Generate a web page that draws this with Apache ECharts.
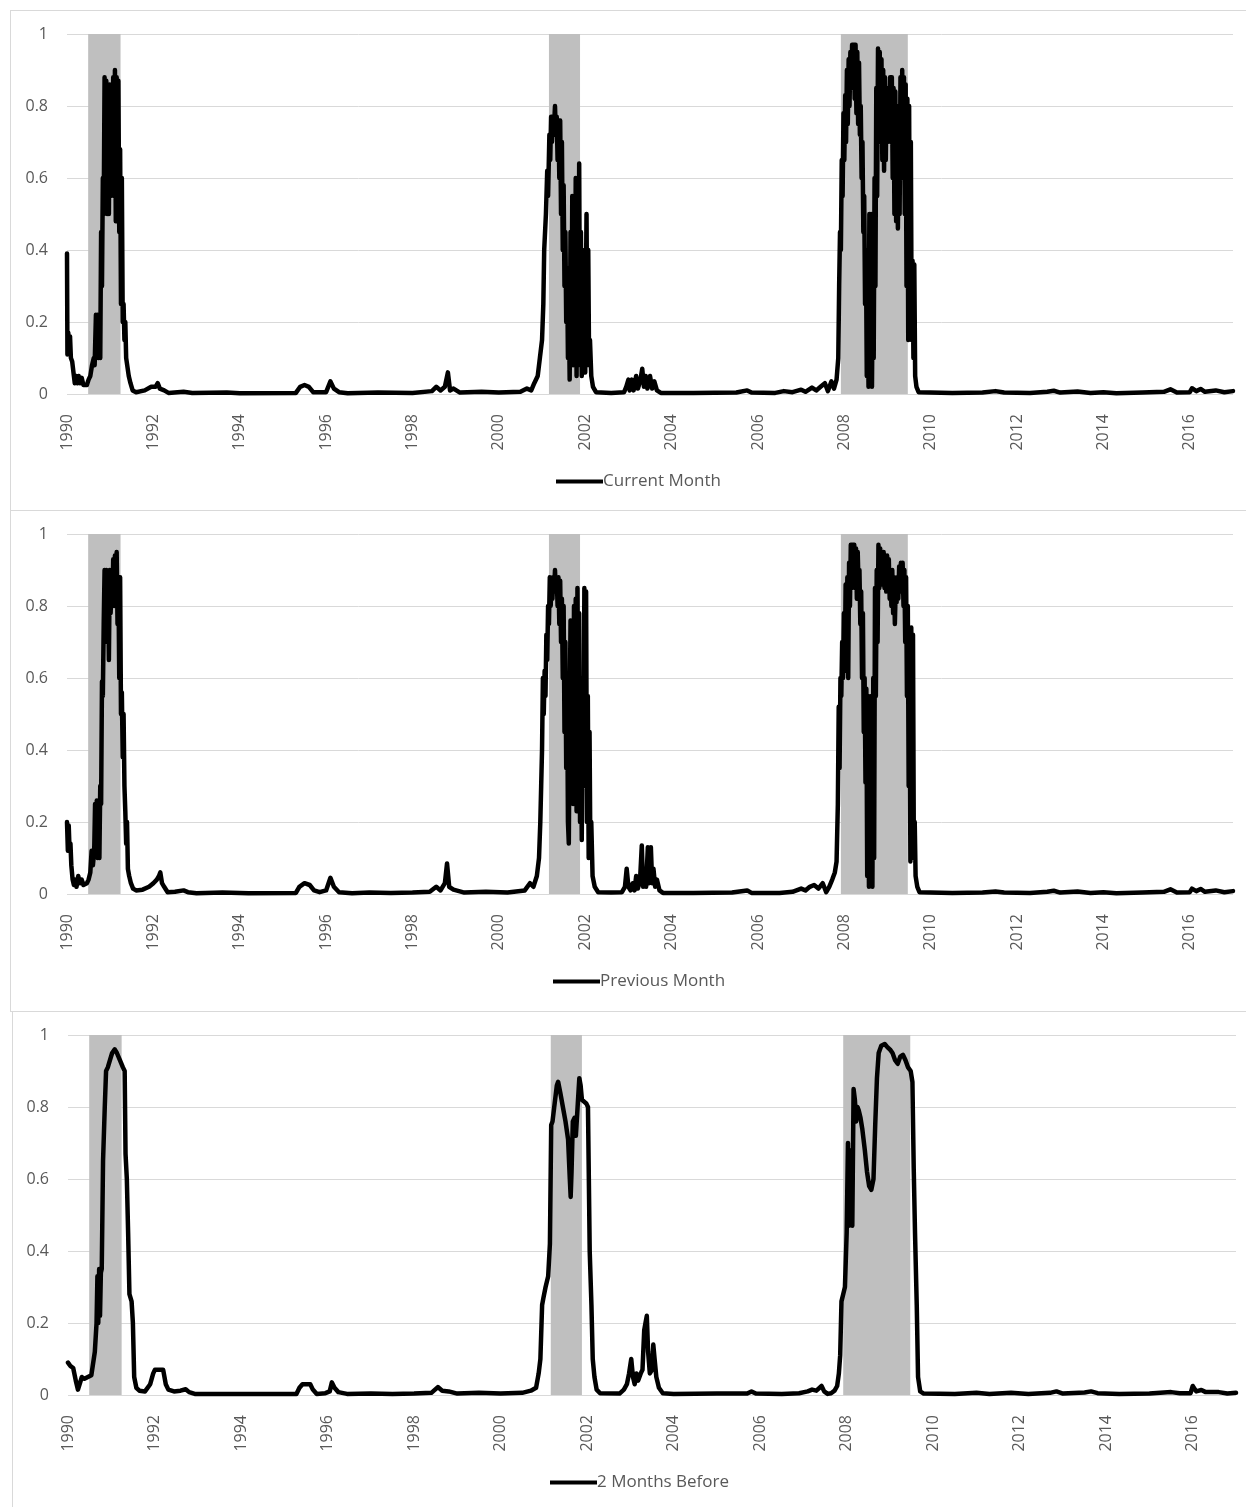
<!DOCTYPE html>
<html>
<head>
<meta charset="utf-8">
<script src="https://cdn.jsdelivr.net/npm/echarts@6/dist/echarts.min.js"></script>
<style>
  html, body { margin: 0; padding: 0; background: #fff; }
  body { width: 1246px; height: 1507px; position: relative; overflow: hidden; }
  .panel { position: absolute; border: 1px solid #d9d9d9; box-sizing: border-box; }
</style>
</head>
<body>
<div id="p1" class="panel" style="left:10px; top:10px; width:1240px; height:501px;"></div>
<div id="p2" class="panel" style="left:10px; top:510px; width:1240px; height:502px;"></div>
<div id="p3" class="panel" style="left:12px; top:1011px; width:1240px; height:500px;"></div>
<script>
// ---- Data (decimal year, probability) ----
const seriesNames = ['Current Month', 'Previous Month', '2 Months Before'];

const recessions = [[1990.49, 1991.24], [2001.16, 2001.88], [2007.92, 2009.47]];

const yAxisTicks = [0, 0.2, 0.4, 0.6, 0.8, 1];

const currentMonth = [
[1990.0,0.39],[1990.01,0.11],[1990.03,0.17],[1990.05,0.11],[1990.07,0.16],[1990.09,0.1],[1990.12,0.09],[1990.15,0.06],[1990.18,0.03],[1990.21,0.05],[1990.24,0.03],[1990.27,0.05],[1990.3,0.03],[1990.34,0.045],[1990.38,0.025],[1990.42,0.03],[1990.46,0.025],
[1990.50,0.04],[1990.54,0.05],[1990.58,0.08],[1990.62,0.1],[1990.64,0.08],[1990.67,0.22],[1990.69,0.1],[1990.71,0.22],[1990.73,0.1],[1990.75,0.2],[1990.77,0.1],[1990.79,0.45],[1990.81,0.3],[1990.83,0.6],[1990.85,0.5],[1990.87,0.88],[1990.89,0.6],[1990.91,0.87],[1990.93,0.5],[1990.95,0.85],[1990.97,0.5],[1990.99,0.86],[1991.01,0.55],[1991.03,0.85],[1991.05,0.6],[1991.07,0.88],[1991.09,0.55],[1991.11,0.9],[1991.13,0.48],[1991.15,0.88],[1991.17,0.5],[1991.19,0.87],[1991.21,0.45],[1991.23,0.68],[1991.25,0.25],[1991.27,0.6],[1991.29,0.2],[1991.31,0.25],[1991.33,0.15],[1991.35,0.2],[1991.37,0.1],[1991.40,0.1],[1991.43,0.05],[1991.47,0.03],[1991.52,0.01],
[1991.6,0.005],[1991.8,0.01],[1991.95,0.02],[1992.05,0.02],[1992.1,0.03],[1992.15,0.015],[1992.25,0.01],[1992.35,0.003],[1992.7,0.006],[1992.9,0.003],[1993.7,0.004],[1994.0,0.002],[1995.3,0.003],[1995.4,0.02],[1995.5,0.025],[1995.6,0.02],[1995.7,0.005],[1996.0,0.005],[1996.1,0.035],[1996.18,0.015],[1996.3,0.005],[1996.5,0.002],[1997.2,0.004],[1998.0,0.003],[1998.45,0.008],[1998.55,0.02],[1998.65,0.01],[1998.75,0.02],[1998.82,0.06],[1998.87,0.01],[1998.95,0.015],[1999.1,0.004],[1999.6,0.006],[2000.0,0.004],[2000.5,0.006],[2000.65,0.015],[2000.75,0.01],[2000.82,0.03],[2000.9,0.05],[2000.95,0.1],[2001.0,0.15],[2001.03,0.25],
[2001.05,0.4],[2001.07,0.4],[2001.09,0.5],[2001.12,0.62],[2001.14,0.55],[2001.17,0.72],[2001.19,0.65],[2001.21,0.77],[2001.23,0.7],[2001.25,0.77],[2001.27,0.72],[2001.30,0.8],[2001.32,0.72],[2001.34,0.77],[2001.36,0.65],[2001.38,0.76],[2001.40,0.6],[2001.42,0.76],[2001.44,0.5],[2001.46,0.7],[2001.48,0.4],[2001.50,0.58],[2001.52,0.3],[2001.54,0.45],[2001.56,0.2],[2001.58,0.35],[2001.60,0.1],[2001.62,0.25],[2001.64,0.04],[2001.66,0.45],[2001.68,0.1],[2001.70,0.55],[2001.72,0.08],[2001.74,0.48],[2001.76,0.1],[2001.78,0.6],[2001.80,0.05],[2001.82,0.55],[2001.84,0.1],[2001.86,0.64],[2001.88,0.08],[2001.90,0.45],[2001.92,0.05],[2001.94,0.4],[2001.96,0.1],[2001.98,0.3],[2002.00,0.06],[2002.03,0.5],[2002.05,0.1],[2002.07,0.4],[2002.09,0.08],[2002.11,0.15],[2002.14,0.05],[2002.18,0.02],[2002.25,0.005],
[2002.6,0.003],[2002.9,0.005],[2002.95,0.02],[2003.0,0.04],[2003.03,0.01],[2003.08,0.04],[2003.12,0.01],[2003.18,0.05],[2003.22,0.015],[2003.28,0.04],[2003.32,0.07],[2003.36,0.02],[2003.4,0.05],[2003.44,0.015],[2003.5,0.05],[2003.55,0.015],[2003.6,0.035],[2003.66,0.01],[2003.75,0.003],[2004.5,0.003],[2005.5,0.004],[2005.75,0.01],[2005.85,0.004],[2006.4,0.003],[2006.6,0.008],[2006.8,0.005],[2007.0,0.012],[2007.1,0.006],[2007.25,0.018],[2007.35,0.01],[2007.45,0.02],[2007.55,0.03],[2007.62,0.008],[2007.7,0.035],[2007.76,0.015],[2007.82,0.04],[2007.86,0.1],
[2007.88,0.3],[2007.90,0.45],[2007.92,0.4],[2007.94,0.65],[2007.96,0.55],[2007.98,0.78],[2008.00,0.65],[2008.02,0.83],[2008.04,0.7],[2008.06,0.9],[2008.08,0.75],[2008.10,0.93],[2008.12,0.8],[2008.14,0.95],[2008.16,0.85],[2008.18,0.97],[2008.20,0.85],[2008.22,0.97],[2008.24,0.82],[2008.26,0.97],[2008.28,0.78],[2008.30,0.95],[2008.32,0.75],[2008.34,0.92],[2008.36,0.72],[2008.38,0.8],[2008.40,0.6],[2008.42,0.7],[2008.44,0.45],[2008.46,0.55],[2008.48,0.25],[2008.50,0.4],[2008.52,0.05],[2008.54,0.3],[2008.56,0.02],[2008.58,0.5],[2008.60,0.05],[2008.62,0.5],[2008.64,0.02],[2008.66,0.35],[2008.68,0.1],[2008.70,0.6],[2008.72,0.3],[2008.74,0.85],[2008.76,0.55],[2008.78,0.96],[2008.80,0.7],[2008.82,0.95],[2008.84,0.72],[2008.86,0.93],[2008.88,0.65],[2008.90,0.9],[2008.92,0.62],[2008.94,0.88],[2008.96,0.65],[2008.98,0.85],[2009.00,0.7],[2009.02,0.83],[2009.04,0.72],[2009.06,0.88],[2009.08,0.7],[2009.10,0.88],[2009.12,0.6],[2009.14,0.85],[2009.16,0.5],[2009.18,0.84],[2009.20,0.48],[2009.22,0.8],[2009.24,0.46],[2009.26,0.75],[2009.28,0.5],[2009.30,0.88],[2009.32,0.6],[2009.34,0.9],[2009.36,0.65],[2009.38,0.88],[2009.40,0.5],[2009.42,0.86],[2009.44,0.3],[2009.46,0.82],[2009.48,0.15],[2009.50,0.8],[2009.52,0.2],[2009.54,0.7],[2009.56,0.15],[2009.58,0.37],[2009.60,0.1],[2009.62,0.36],[2009.64,0.05],[2009.67,0.02],[2009.72,0.005],
[2010.5,0.003],[2011.2,0.004],[2011.5,0.008],[2011.7,0.004],[2012.3,0.003],[2012.7,0.006],[2012.85,0.009],[2013.0,0.004],[2013.4,0.007],[2013.7,0.003],[2014.0,0.005],[2014.3,0.002],[2014.9,0.004],[2015.4,0.006],[2015.55,0.013],[2015.7,0.004],[2016.0,0.005],[2016.05,0.016],[2016.15,0.008],[2016.25,0.014],[2016.35,0.006],[2016.6,0.01],[2016.8,0.005],[2017.0,0.008]
];

const previousMonth = [
[1990.0,0.2],[1990.02,0.12],[1990.04,0.19],[1990.06,0.12],[1990.08,0.14],[1990.1,0.08],[1990.13,0.04],[1990.16,0.025],[1990.19,0.04],[1990.22,0.02],[1990.26,0.05],[1990.3,0.03],[1990.34,0.04],[1990.38,0.025],[1990.42,0.03],[1990.46,0.03],[1990.5,0.04],[1990.54,0.06],
[1990.57,0.12],[1990.6,0.08],[1990.63,0.12],[1990.65,0.25],[1990.67,0.12],[1990.69,0.26],[1990.71,0.1],[1990.73,0.2],[1990.75,0.1],[1990.77,0.3],[1990.79,0.25],[1990.81,0.59],[1990.83,0.55],[1990.85,0.75],[1990.87,0.9],[1990.89,0.75],[1990.91,0.9],[1990.93,0.7],[1990.95,0.88],[1990.97,0.65],[1990.99,0.9],[1991.01,0.78],[1991.03,0.85],[1991.05,0.8],[1991.07,0.93],[1991.09,0.8],[1991.11,0.94],[1991.13,0.85],[1991.15,0.95],[1991.17,0.75],[1991.19,0.88],[1991.21,0.6],[1991.23,0.88],[1991.25,0.5],[1991.27,0.56],[1991.29,0.38],[1991.31,0.5],[1991.33,0.3],[1991.35,0.23],[1991.37,0.14],[1991.39,0.2],[1991.41,0.07],[1991.44,0.05],[1991.48,0.03],[1991.53,0.015],
[1991.6,0.01],[1991.75,0.012],[1991.9,0.02],[1992.0,0.03],[1992.08,0.04],[1992.13,0.05],[1992.16,0.06],[1992.2,0.03],[1992.25,0.02],[1992.33,0.005],[1992.5,0.006],[1992.7,0.01],[1992.8,0.005],[1993.0,0.002],[1993.6,0.004],[1994.0,0.003],[1994.2,0.002],[1995.3,0.003],[1995.38,0.02],[1995.5,0.03],[1995.62,0.025],[1995.72,0.01],[1995.85,0.005],[1996.0,0.01],[1996.1,0.045],[1996.18,0.02],[1996.3,0.005],[1996.6,0.002],[1997.0,0.004],[1997.5,0.003],[1998.0,0.004],[1998.4,0.006],[1998.55,0.02],[1998.65,0.01],[1998.75,0.03],[1998.8,0.085],[1998.85,0.02],[1998.95,0.012],[1999.2,0.004],[1999.7,0.006],[2000.2,0.004],[2000.6,0.01],[2000.72,0.03],[2000.8,0.02],[2000.88,0.05],[2000.93,0.1],[2000.96,0.2],[2000.98,0.3],
[2001.0,0.4],[2001.02,0.6],[2001.04,0.5],[2001.06,0.62],[2001.08,0.55],[2001.10,0.72],[2001.12,0.65],[2001.14,0.8],[2001.16,0.75],[2001.18,0.88],[2001.20,0.8],[2001.22,0.86],[2001.24,0.82],[2001.26,0.88],[2001.28,0.84],[2001.30,0.9],[2001.32,0.84],[2001.34,0.88],[2001.36,0.8],[2001.38,0.88],[2001.40,0.75],[2001.42,0.87],[2001.44,0.7],[2001.46,0.82],[2001.48,0.6],[2001.50,0.8],[2001.52,0.45],[2001.54,0.7],[2001.56,0.35],[2001.58,0.6],[2001.60,0.2],[2001.62,0.14],[2001.64,0.5],[2001.66,0.76],[2001.68,0.3],[2001.70,0.75],[2001.72,0.25],[2001.74,0.8],[2001.76,0.3],[2001.78,0.82],[2001.80,0.23],[2001.82,0.85],[2001.84,0.4],[2001.86,0.78],[2001.88,0.2],[2001.90,0.5],[2001.92,0.15],[2001.94,0.6],[2001.96,0.3],[2001.98,0.85],[2002.00,0.3],[2002.02,0.84],[2002.04,0.2],[2002.06,0.55],[2002.08,0.1],[2002.10,0.45],[2002.12,0.1],[2002.14,0.2],[2002.17,0.05],[2002.22,0.02],[2002.3,0.005],
[2002.6,0.004],[2002.85,0.005],[2002.92,0.02],[2002.96,0.07],[2003.0,0.02],[2003.05,0.01],[2003.1,0.03],[2003.14,0.01],[2003.18,0.05],[2003.22,0.015],[2003.27,0.04],[2003.31,0.135],[2003.34,0.02],[2003.38,0.06],[2003.41,0.02],[2003.45,0.13],[2003.48,0.03],[2003.52,0.13],[2003.55,0.03],[2003.58,0.07],[2003.62,0.02],[2003.66,0.04],[2003.72,0.01],[2003.8,0.003],[2004.5,0.003],[2005.4,0.004],[2005.75,0.01],[2005.85,0.003],[2006.5,0.003],[2006.8,0.006],[2007.0,0.015],[2007.1,0.01],[2007.2,0.02],[2007.3,0.025],[2007.4,0.015],[2007.5,0.03],[2007.58,0.005],[2007.65,0.02],[2007.72,0.04],[2007.78,0.06],[2007.82,0.09],[2007.85,0.25],
[2007.87,0.52],[2007.89,0.35],[2007.91,0.6],[2007.93,0.55],[2007.95,0.7],[2007.97,0.6],[2007.99,0.78],[2008.01,0.62],[2008.03,0.86],[2008.05,0.68],[2008.07,0.88],[2008.09,0.6],[2008.11,0.92],[2008.13,0.8],[2008.15,0.97],[2008.17,0.85],[2008.19,0.97],[2008.21,0.88],[2008.23,0.97],[2008.25,0.85],[2008.27,0.96],[2008.29,0.82],[2008.31,0.95],[2008.33,0.85],[2008.35,0.9],[2008.37,0.75],[2008.39,0.84],[2008.41,0.6],[2008.43,0.78],[2008.45,0.45],[2008.47,0.6],[2008.49,0.31],[2008.51,0.57],[2008.53,0.05],[2008.55,0.55],[2008.57,0.02],[2008.59,0.5],[2008.61,0.05],[2008.63,0.55],[2008.65,0.02],[2008.67,0.6],[2008.69,0.1],[2008.71,0.85],[2008.73,0.55],[2008.75,0.9],[2008.77,0.7],[2008.79,0.97],[2008.81,0.85],[2008.83,0.96],[2008.85,0.88],[2008.87,0.95],[2008.89,0.86],[2008.91,0.95],[2008.93,0.85],[2008.95,0.93],[2008.97,0.84],[2008.99,0.94],[2009.01,0.86],[2009.03,0.93],[2009.05,0.82],[2009.07,0.9],[2009.09,0.8],[2009.11,0.9],[2009.13,0.78],[2009.15,0.88],[2009.17,0.75],[2009.19,0.85],[2009.21,0.81],[2009.23,0.88],[2009.25,0.82],[2009.27,0.91],[2009.29,0.85],[2009.31,0.92],[2009.33,0.84],[2009.35,0.92],[2009.37,0.8],[2009.39,0.9],[2009.41,0.7],[2009.43,0.88],[2009.45,0.55],[2009.47,0.8],[2009.49,0.3],[2009.51,0.6],[2009.53,0.09],[2009.55,0.74],[2009.57,0.2],[2009.59,0.72],[2009.61,0.1],[2009.63,0.2],[2009.65,0.05],[2009.69,0.02],[2009.74,0.005],
[2010.5,0.003],[2011.2,0.004],[2011.5,0.007],[2011.7,0.004],[2012.3,0.003],[2012.7,0.006],[2012.85,0.009],[2013.0,0.004],[2013.4,0.007],[2013.7,0.003],[2014.0,0.005],[2014.3,0.002],[2014.9,0.004],[2015.4,0.006],[2015.55,0.013],[2015.7,0.004],[2016.0,0.005],[2016.05,0.015],[2016.15,0.008],[2016.25,0.014],[2016.35,0.006],[2016.6,0.01],[2016.8,0.005],[2017.0,0.008]
];

const twoMonthsBefore = [
[1990.0,0.09],[1990.06,0.08],[1990.12,0.075],[1990.18,0.04],[1990.23,0.015],[1990.27,0.02],[1990.32,0.05],[1990.38,0.045],[1990.46,0.05],[1990.54,0.055],[1990.58,0.06],[1990.62,0.12],[1990.66,0.2],[1990.68,0.33],[1990.70,0.2],[1990.72,0.35],[1990.74,0.22],[1990.76,0.34],[1990.78,0.35],[1990.81,0.65],[1990.85,0.8],[1990.88,0.9],[1990.92,0.91],[1990.97,0.93],[1991.02,0.95],[1991.08,0.96],[1991.13,0.95],[1991.2,0.93],[1991.27,0.91],[1991.31,0.9],[1991.33,0.67],[1991.36,0.6],[1991.39,0.45],[1991.42,0.28],[1991.47,0.26],[1991.5,0.2],[1991.53,0.05],[1991.58,0.02],[1991.65,0.012],[1991.78,0.01],[1991.9,0.03],[1991.97,0.06],[1992.01,0.07],[1992.1,0.07],[1992.2,0.07],[1992.26,0.03],[1992.32,0.015],[1992.45,0.01],[1992.6,0.012],[1992.72,0.016],[1992.8,0.008],[1992.93,0.003],[1993.5,0.003],[1994.0,0.003],[1995.28,0.003],[1995.35,0.02],[1995.42,0.03],[1995.6,0.03],[1995.66,0.015],[1995.75,0.003],[1995.95,0.005],[1996.05,0.01],[1996.1,0.035],[1996.16,0.02],[1996.25,0.008],[1996.45,0.003],[1997.0,0.004],[1997.5,0.003],[1998.0,0.004],[1998.4,0.006],[1998.55,0.022],[1998.65,0.012],[1998.8,0.01],[1999.0,0.004],[1999.5,0.006],[2000.0,0.004],[2000.5,0.006],[2000.7,0.012],[2000.82,0.02],[2000.88,0.06],[2000.92,0.1],[2000.96,0.25],[2000.99,0.27],[2001.04,0.3],[2001.1,0.33],[2001.14,0.42],[2001.17,0.75],[2001.2,0.76],[2001.24,0.8],[2001.3,0.86],[2001.33,0.87],[2001.38,0.84],[2001.44,0.8],[2001.5,0.76],[2001.56,0.71],[2001.6,0.6],[2001.62,0.55],[2001.64,0.62],[2001.67,0.76],[2001.71,0.77],[2001.74,0.72],[2001.78,0.8],[2001.82,0.88],[2001.85,0.86],[2001.88,0.82],[2001.92,0.82],[2001.98,0.81],[2002.02,0.8],[2002.04,0.6],[2002.06,0.4],[2002.1,0.25],[2002.13,0.1],[2002.17,0.05],[2002.22,0.015],[2002.3,0.005],[2002.75,0.004],[2002.85,0.015],[2002.92,0.03],[2002.97,0.06],[2003.02,0.1],[2003.06,0.05],[2003.1,0.03],[2003.14,0.06],[2003.18,0.04],[2003.24,0.06],[2003.28,0.07],[2003.32,0.18],[2003.35,0.2],[2003.38,0.22],[2003.41,0.12],[2003.45,0.06],[2003.5,0.07],[2003.53,0.14],[2003.56,0.1],[2003.6,0.05],[2003.66,0.02],[2003.75,0.005],[2004.0,0.003],[2005.0,0.004],[2005.7,0.004],[2005.8,0.01],[2005.9,0.004],[2006.5,0.003],[2006.9,0.005],[2007.1,0.01],[2007.2,0.015],[2007.3,0.012],[2007.42,0.025],[2007.48,0.01],[2007.56,0.003],[2007.64,0.005],[2007.72,0.012],[2007.78,0.025],[2007.82,0.06],[2007.85,0.11],[2007.88,0.26],[2007.92,0.28],[2007.96,0.3],[2008.0,0.45],[2008.03,0.7],[2008.05,0.47],[2008.07,0.68],[2008.09,0.5],[2008.11,0.66],[2008.13,0.47],[2008.16,0.85],[2008.19,0.82],[2008.22,0.76],[2008.25,0.8],[2008.28,0.79],[2008.32,0.77],[2008.36,0.74],[2008.42,0.68],[2008.47,0.62],[2008.52,0.58],[2008.57,0.57],[2008.62,0.6],[2008.66,0.75],[2008.70,0.88],[2008.74,0.95],[2008.8,0.97],[2008.88,0.975],[2008.95,0.965],[2009.0,0.96],[2009.06,0.95],[2009.12,0.93],[2009.18,0.92],[2009.24,0.94],[2009.3,0.945],[2009.36,0.93],[2009.42,0.91],[2009.48,0.9],[2009.52,0.87],[2009.55,0.63],[2009.58,0.45],[2009.62,0.25],[2009.65,0.05],[2009.7,0.01],[2009.78,0.004],[2010.5,0.003],[2011.0,0.006],[2011.3,0.003],[2011.8,0.006],[2012.2,0.003],[2012.7,0.006],[2012.85,0.01],[2013.0,0.004],[2013.5,0.007],[2013.65,0.01],[2013.8,0.005],[2014.3,0.003],[2015.0,0.004],[2015.5,0.008],[2015.7,0.005],[2015.95,0.005],[2016.0,0.025],[2016.08,0.01],[2016.2,0.014],[2016.3,0.008],[2016.6,0.008],[2016.8,0.004],[2017.0,0.006]
];

// ---- Chart builder ----
const FONT = '"Open Sans", "DejaVu Sans", sans-serif';

function makeOption(name, data, layout) {
  return {
    animation: false,
    backgroundColor: '#ffffff',
    textStyle: { fontFamily: FONT },
    grid: { left: layout.left, top: 23, width: layout.width, height: 360, containLabel: false },
    legend: {
      data: [name],
      left: layout.legendLeft,
      top: 457,
      icon: 'rect',
      itemWidth: 47,
      itemHeight: 4,
      itemGap: 0,
      itemStyle: { color: '#000' },
      textStyle: { color: '#595959', fontSize: 17, fontFamily: FONT, padding: [0, 0, 0, -5] }
    },
    xAxis: {
      type: 'value',
      min: 1990, max: 2017, interval: 2,
      axisLine: { show: false },
      axisTick: { show: false },
      splitLine: { show: false },
      axisLabel: {
        rotate: 90, margin: 20, color: '#595959', fontSize: 16, fontFamily: FONT,
        formatter: v => (v % 2 === 0 ? String(v) : '')
      }
    },
    yAxis: {
      type: 'value',
      min: yAxisTicks[0], max: yAxisTicks[yAxisTicks.length - 1], interval: 0.2,
      axisLine: { show: false },
      axisTick: { show: false },
      splitLine: { lineStyle: { color: '#d9d9d9', width: 1 } },
      axisLabel: { color: '#595959', fontSize: 16, margin: 19, fontFamily: FONT }
    },
    series: [{
      name: name,
      type: 'line',
      data: data,
      showSymbol: false,
      symbol: 'none',
      sampling: null,
      lineStyle: { color: '#000', width: 4.5, join: 'round', cap: 'round' },
      itemStyle: { color: '#000' },
      z: 3,
      markArea: {
        silent: true,
        itemStyle: { color: '#bfbfbf' },
        data: recessions.map(r => [{ xAxis: r[0] }, { xAxis: r[1] }])
      }
    }]
  };
}

const panels = [
  { id: 'p1', name: seriesNames[0], data: currentMonth,  layout: { left: 56, width: 1166, legendLeft: 540 } },
  { id: 'p2', name: seriesNames[1], data: previousMonth, layout: { left: 56, width: 1166, legendLeft: 537 } },
  { id: 'p3', name: seriesNames[2], data: twoMonthsBefore, layout: { left: 55, width: 1168, legendLeft: 532 } }
];

panels.forEach(p => {
  const chart = echarts.init(document.getElementById(p.id), null, { renderer: 'canvas' });
  chart.setOption(makeOption(p.name, p.data, p.layout));
});
</script>
</body>
</html>
